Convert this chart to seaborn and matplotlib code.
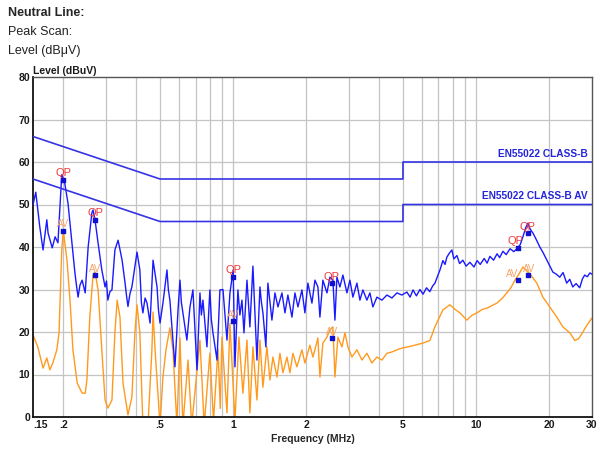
import numpy as np
import pandas as pd
import matplotlib
matplotlib.use("Agg")
import matplotlib.pyplot as plt
import matplotlib.transforms as mtransforms
import seaborn as sns

# peak scan trace (blue), MHz / dBuV
blue_freq = [0.150, 0.154, 0.160, 0.165, 0.171, 0.173, 0.180, 0.185, 0.190, 0.197, 0.202,
             0.209, 0.217, 0.223, 0.227, 0.230, 0.234, 0.239, 0.246, 0.253, 0.262, 0.265, 0.270,
             0.278, 0.288, 0.297, 0.301, 0.305, 0.311, 0.317, 0.326, 0.336, 0.349, 0.359, 0.364,
             0.369, 0.376, 0.383, 0.402, 0.413, 0.419, 0.425, 0.434, 0.442, 0.455, 0.468, 0.486,
             0.493, 0.500, 0.514, 0.534, 0.541, 0.549, 0.576, 0.593, 0.604, 0.612, 0.621, 0.645,
             0.664, 0.683, 0.710, 0.730, 0.740, 0.751, 0.780, 0.802, 0.813, 0.826, 0.858, 0.882,
             0.908, 0.943, 0.970, 1.000, 1.017, 1.046, 1.066, 1.087, 1.108, 1.140, 1.172, 1.206,
             1.253, 1.289, 1.307, 1.326, 1.364, 1.390, 1.444, 1.486, 1.529, 1.588, 1.634, 1.680,
             1.746, 1.796, 1.848, 1.919, 1.974, 2.031, 2.110, 2.171, 2.233, 2.276, 2.341,
             2.433, 2.502, 2.574, 2.624, 2.674, 2.751, 2.830, 2.940, 3.024, 3.111,
             3.232, 3.325, 3.420, 3.553, 3.655, 3.760, 3.906, 4.097, 4.295, 4.503,
             4.722, 4.950, 5.19, 5.35, 5.50, 5.68, 5.87, 6.05, 6.25, 6.45,
             6.62, 6.77, 6.93, 7.10, 7.30, 7.45, 7.58, 7.75, 7.95, 8.10,
             8.34, 8.55, 8.82, 9.10, 9.43, 9.80, 10.1, 10.4, 10.8, 11.1,
             11.4, 11.8, 12.2, 12.5, 12.9, 13.3, 13.8, 14.3, 14.86, 15.2,
             15.59, 16.0, 16.34, 16.7, 17.13, 17.6, 18.3, 18.9, 19.56, 20.1,
             20.7, 21.4, 22.1, 22.8, 23.6, 24.3, 25.0, 25.8, 26.7, 27.4,
             28.0, 28.7, 29.4, 30.0]
blue_level = [49.9, 52.9, 44.7, 39.3, 46.4, 43.3, 39.8, 42.4, 41.0, 57.0, 55.5,
              50.3, 40.9, 34.1, 30.5, 28.2, 31.0, 32.2, 29.2, 40.0, 48.0, 48.7, 46.4,
              40.9, 34.6, 30.6, 32.0, 27.5, 29.5, 29.9, 39.3, 41.6, 36.9, 31.5, 28.5,
              26.0, 29.0, 30.6, 38.8, 34.6, 27.0, 24.5, 28.0, 26.8, 22.1, 36.9, 30.6,
              25.0, 22.1, 26.8, 34.6, 30.0, 27.5, 11.8, 25.2, 32.2, 27.0, 24.5, 18.1,
              25.9, 29.9, 11.1, 29.2, 24.0, 27.5, 16.5, 29.9, 23.0, 19.8, 13.4, 29.9,
              30.0, 18.1, 29.2, 34.6, 11.8, 29.9, 24.0, 27.5, 19.8, 32.2, 21.2, 35.5,
              13.4, 30.6, 27.0, 24.5, 16.5, 31.5, 22.8, 29.2, 25.9, 29.2, 24.5, 28.7,
              23.5, 29.2, 25.9, 29.9, 24.5, 31.5, 26.8, 32.2, 30.6, 23.5, 32.2,
              29.2, 32.9, 32.2, 22.8, 32.9, 30.6, 33.4, 29.2, 32.2, 28.2,
              31.5, 27.5, 29.9, 27.5, 29.2, 25.9, 28.2, 27.5, 28.7, 28.0,
              29.2, 28.7, 29.4, 28.2, 29.9, 28.5, 30.0, 28.9, 30.4, 29.5,
              30.8, 31.5, 33.0, 34.6, 36.8, 35.9, 37.6, 38.5, 39.3, 37.2,
              38.0, 36.1, 36.9, 35.5, 36.4, 35.3, 36.8, 35.9, 37.3, 36.2,
              37.8, 36.9, 38.4, 37.5, 39.0, 38.2, 39.6, 38.9, 39.8, 40.6,
              42.4, 44.5, 45.6, 44.2, 43.3, 42.0, 40.0, 38.6, 36.9, 35.5,
              34.1, 33.6, 32.9, 34.0, 31.5, 32.4, 30.6, 31.4, 30.4, 32.5,
              33.4, 33.0, 33.9, 33.6]

# average trace (orange)
orange_freq = [0.150, 0.157, 0.165, 0.171, 0.176, 0.181, 0.188, 0.192, 0.197, 0.200,
               0.207, 0.213, 0.219, 0.228, 0.239, 0.246, 0.250, 0.257, 0.265, 0.270,
               0.278, 0.288, 0.297, 0.305, 0.317, 0.326, 0.333, 0.342, 0.352, 0.369,
               0.383, 0.394, 0.402, 0.413, 0.425, 0.446, 0.463, 0.468, 0.477, 0.500,
               0.514, 0.529, 0.549, 0.565, 0.587, 0.604, 0.621, 0.652, 0.675, 0.730,
               0.760, 0.802, 0.830, 0.866, 0.885, 0.899, 0.943, 0.970, 1.017, 1.056,
               1.097, 1.140, 1.172, 1.206, 1.253, 1.289, 1.326, 1.377, 1.417, 1.458,
               1.515, 1.558, 1.603, 1.665, 1.713, 1.762, 1.830, 1.919, 1.974, 2.070,
               2.130, 2.233, 2.276, 2.341, 2.433, 2.502, 2.574, 2.624, 2.699, 2.805,
               2.885, 2.968, 3.083, 3.232, 3.389, 3.553, 3.724, 3.906, 4.097, 4.295,
               4.503, 4.722, 4.950, 5.24, 5.60, 6.05, 6.455, 6.768, 7.30, 7.80,
               8.20, 8.58, 9.16, 9.60, 10.07, 10.6, 11.08, 11.6, 12.18, 12.8,
               13.38, 13.9, 14.45, 15.0, 15.59, 16.34, 17.0, 17.79, 18.84, 20.1,
               21.5, 22.76, 24.33, 25.5, 26.4, 27.2, 28.5, 30.0]
orange_level = [19.3, 16.5, 11.5, 13.9, 11.1, 12.7, 15.8, 19.8, 39.3, 43.8,
                36.9, 27.5, 15.8, 8.0, 5.6, 5.6, 8.7, 23.5, 33.4, 34.1,
                29.9, 15.8, 4.0, 2.1, 4.0, 19.8, 27.5, 23.5, 8.0, 0.5,
                4.7, 19.8, 26.4, 19.8, -2.0, -2.0, 15.8, 24.7, 15.8, -2.0,
                9.4, 15.8, 21.0, 15.8, -2.0, 18.6, -2.0, 13.4, -2.0, 18.1,
                -2.0, 15.0, -1.0, 16.0, 2.0, 18.8, 1.0, 22.0, -1.0, 18.8,
                5.6, 18.1, 1.0, 16.5, 4.0, 18.1, 7.0, 16.5, 8.7, 14.1,
                9.4, 15.0, 10.4, 14.1, 10.4, 15.0, 11.8, 15.8, 12.7, 16.9,
                14.1, 18.6, 9.4, 17.4, 18.8, 20.5, 21.2, 9.4, 18.8, 16.5,
                19.8, 16.5, 14.1, 15.8, 13.4, 15.0, 12.7, 14.1, 13.4, 15.0,
                15.3, 15.8, 16.2, 16.5, 16.9, 17.4, 18.0, 21.2, 25.2, 26.4,
                25.3, 24.5, 22.8, 23.9, 24.5, 25.3, 25.6, 26.2, 26.8, 27.9,
                29.2, 30.4, 32.2, 33.6, 35.3, 34.1, 33.0, 31.5, 28.2, 25.9,
                23.5, 21.2, 19.8, 18.0, 18.4, 19.5, 21.5, 23.3]

# EN55022 class B limits
limit_freq = [0.15, 0.5, 5.0, 5.0, 30.0]
limit_qp = [66, 56, 56, 60, 60]
limit_av = [56, 46, 46, 50, 50]

# final measurement points
qp_freq = [0.200, 0.270, 1.000, 2.55, 14.86, 16.3]
qp_level = [55.8, 46.4, 33.0, 31.5, 39.8, 43.3]
av_freq = [0.200, 0.270, 1.000, 2.55, 14.86, 16.3]
av_level = [43.8, 33.4, 22.5, 18.6, 32.2, 33.4]

xticks = [0.15, 0.2, 0.5, 1, 2, 5, 10, 20, 30]
xticklabels = [".15", ".2", ".5", "1", "2", "5", "10", "20", "30"]
xgrid = [0.2, 0.3, 0.4, 0.5, 0.6, 0.7, 0.8, 0.9, 1, 2, 3, 4, 5, 6, 7, 8, 9, 10, 20]

sns.set_style("white")
plt.rcParams["font.family"] = ["Liberation Sans", "DejaVu Sans"]

fig = plt.figure(figsize=(6.05, 4.49), dpi=100)
ax = fig.add_axes([33 / 605, 32 / 449, 559 / 605, 340 / 449])
ax.set_xscale("log")
ax.set_xlim(0.15, 30)
ax.set_ylim(0, 80)

for g in xgrid:
    ax.axvline(g, color="#c4c4c4", lw=0.9, zorder=0)
for g in range(10, 80, 10):
    ax.axhline(g, color="#c4c4c4", lw=0.9, zorder=0)

blue_df = pd.DataFrame({"freq": blue_freq, "level": blue_level})
orange_df = pd.DataFrame({"freq": orange_freq, "level": orange_level})
sns.lineplot(data=orange_df, x="freq", y="level", ax=ax, color="#ff9a1e", lw=1.0,
             estimator=None, sort=False, zorder=2)
sns.lineplot(data=blue_df, x="freq", y="level", ax=ax, color="#1a1aff", lw=1.0,
             estimator=None, sort=False, zorder=3)

lim_df = pd.DataFrame({"freq": limit_freq, "qp": limit_qp, "av": limit_av})
sns.lineplot(data=lim_df, x="freq", y="qp", ax=ax, color="#3434e4", lw=1.2,
             estimator=None, sort=False, zorder=4)
sns.lineplot(data=lim_df, x="freq", y="av", ax=ax, color="#3434e4", lw=1.2,
             estimator=None, sort=False, zorder=4)

trans = mtransforms.blended_transform_factory(ax.transAxes, ax.transData)
ax.text(0.993, limit_qp[-1] + 0.8, "EN55022 CLASS-B", transform=trans, ha="right",
        va="bottom", fontsize=7.3, fontweight="bold", color="#2424dc")
ax.text(0.993, limit_av[-1] + 0.8, "EN55022 CLASS-B AV", transform=trans, ha="right",
        va="bottom", fontsize=7.3, fontweight="bold", color="#2424dc")

ax.scatter(qp_freq, qp_level, marker="s", s=7, color="#1010d0", zorder=6)
ax.scatter(av_freq, av_level, marker="s", s=7, color="#1010d0", zorder=6)
qp_dx = [0, 0, 0, 0, -2, 0]
av_dx = [0, 0, 0, 0, -4, 1]
for f, v, dx in zip(qp_freq, qp_level, qp_dx):
    ax.annotate("QP", (f, v), xytext=(dx, 1), textcoords="offset points", ha="center",
                va="bottom", fontsize=8, color="#ee3a3a", zorder=7)
for f, v, dx in zip(av_freq, av_level, av_dx):
    ax.annotate("AV", (f, v), xytext=(dx, 1), textcoords="offset points", ha="center",
                va="bottom", fontsize=7, color="#f4a468", zorder=7)

ax.set_xticks(xticks)
ax.set_xticklabels(xticklabels)
ax.xaxis.set_minor_locator(matplotlib.ticker.NullLocator())
ax.set_yticks(range(0, 81, 10))
ax.tick_params(axis="both", length=0, labelsize=7.5, pad=2, colors="#1a1a1a")
for lab in ax.get_xticklabels() + ax.get_yticklabels():
    lab.set_fontweight("bold")
ax.get_xticklabels()[0].set_horizontalalignment("left")
ax.get_xticklabels()[-1].set_horizontalalignment("center")
ax.set_xlabel("Frequency (MHz)", fontsize=7.5, fontweight="bold", labelpad=3)
ax.set_ylabel("")
ax.text(0.0, 1.004, "Level (dBuV)", transform=ax.transAxes, ha="left", va="bottom",
        fontsize=7.5, fontweight="bold", color="#1a1a1a")

for s in ax.spines.values():
    s.set_color("#555555")
    s.set_linewidth(1.0)
ax.spines["left"].set_color("#111111")
ax.spines["bottom"].set_color("#111111")
ax.spines["left"].set_linewidth(1.3)
ax.spines["bottom"].set_linewidth(1.3)

fig.text(8 / 605, 1 - 13 / 449, "Neutral Line:", fontsize=9, fontweight="bold", va="center")
fig.text(8 / 605, 1 - 32 / 449, "Peak Scan:", fontsize=9, va="center", color="#222222")
fig.text(8 / 605, 1 - 51 / 449, "Level (dB\u03bcV)", fontsize=9, va="center", color="#222222")

fig.savefig("out.png", dpi=100)
